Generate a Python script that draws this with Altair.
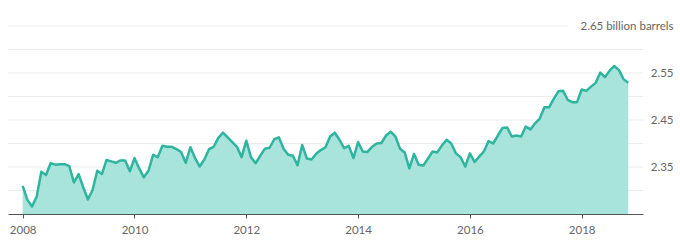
import altair as alt
import pandas as pd

# Monthly values, Jan 2008 .. Nov 2018 (billion barrels)
values = [
    2.310, 2.280, 2.266, 2.287, 2.340, 2.333, 2.358, 2.355, 2.356, 2.356, 2.352, 2.317,  # 2008
    2.335, 2.307, 2.281, 2.301, 2.342, 2.335, 2.365, 2.362, 2.359, 2.364, 2.364, 2.341,  # 2009
    2.369, 2.347, 2.328, 2.342, 2.376, 2.371, 2.395, 2.393, 2.393, 2.388, 2.382, 2.359,  # 2010
    2.392, 2.369, 2.351, 2.366, 2.388, 2.393, 2.412, 2.423, 2.413, 2.403, 2.393, 2.371,  # 2011
    2.406, 2.371, 2.358, 2.374, 2.389, 2.391, 2.409, 2.413, 2.389, 2.376, 2.374, 2.354,  # 2012
    2.397, 2.368, 2.366, 2.378, 2.386, 2.392, 2.415, 2.423, 2.408, 2.390, 2.395, 2.369,  # 2013
    2.403, 2.383, 2.382, 2.393, 2.400, 2.401, 2.417, 2.425, 2.415, 2.389, 2.381, 2.347,  # 2014
    2.378, 2.355, 2.353, 2.368, 2.383, 2.381, 2.396, 2.408, 2.400, 2.379, 2.371, 2.351,  # 2015
    2.379, 2.361, 2.372, 2.383, 2.405, 2.400, 2.417, 2.433, 2.434, 2.415, 2.417, 2.415,  # 2016
    2.436, 2.430, 2.443, 2.453, 2.477, 2.477, 2.495, 2.511, 2.512, 2.493, 2.488, 2.488,  # 2017
    2.515, 2.512, 2.521, 2.529, 2.551, 2.541, 2.555, 2.565, 2.556, 2.537, 2.529,         # 2018
]
start_year = 2008
year_ticks = [2008, 2010, 2012, 2014, 2016, 2018]
label_vals = [2.35, 2.45, 2.55, 2.65]
grid_vals = [2.30, 2.35, 2.40, 2.45, 2.50, 2.55, 2.60]
top_grid = [2.65]
unit_label = "2.65 billion barrels"

df = pd.DataFrame({
    "t": [start_year + i / 12 for i in range(len(values))],
    "v": values,
})
grid_df = pd.DataFrame({"g": grid_vals})
top_df = pd.DataFrame({"g": top_grid})

FONT = "Lato"
W, H = 635, 188
xscale = alt.Scale(domain=[2007.737, 2019.097], nice=False, zero=False)
yscale = alt.Scale(domain=[2.25, 2.65], nice=False, zero=False)

x_axis = alt.Axis(values=year_ticks, format="d", grid=False,
                  domainColor="#555555", domainWidth=1.2,
                  tickColor="#555555", tickSize=4, labelPadding=6,
                  labelColor="#666666", labelFont=FONT, labelFontSize=11.5)
y_axis = alt.Axis(orient="right", values=label_vals, grid=False,
                  domain=False, ticks=False, labelAlign="right",
                  labelPadding=30, labelColor="#666666", labelFont=FONT,
                  labelFontSize=11.5,
                  labelExpr=f"datum.value >= 2.649 ? '{unit_label}' : format(datum.value, '.2f')")

grid = alt.Chart(grid_df).mark_rule(color="#ececec", strokeWidth=1).encode(
    y=alt.Y("g:Q", scale=yscale, axis=y_axis, title=None)
)
top_rule = alt.Chart(top_df).mark_rule(color="#ececec", strokeWidth=1).encode(
    y=alt.Y("g:Q", scale=yscale, axis=y_axis, title=None),
    x=alt.value(0),
    x2=alt.value(560),
)

area = alt.Chart(df).mark_area(color="#a8e4db", opacity=1).encode(
    x=alt.X("t:Q", scale=xscale, title=None, axis=x_axis),
    y=alt.Y("v:Q", scale=yscale, title=None, axis=y_axis),
    y2=alt.datum(2.25),
)
line = alt.Chart(df).mark_line(color="#2fb49f", strokeWidth=2.5, strokeJoin="round").encode(
    x=alt.X("t:Q", scale=xscale, title=None, axis=x_axis),
    y=alt.Y("v:Q", scale=yscale, title=None, axis=y_axis),
)

chart = alt.layer(grid, top_rule, area, line).properties(
    width=W, height=H,
    background="white",
    autosize=alt.AutoSizeParams(type="none"),
    padding={"left": 8, "top": 26, "right": 37, "bottom": 30},
).configure_view(stroke=None)

chart.save("out.html", embed_options={"renderer": "svg", "actions": False})
